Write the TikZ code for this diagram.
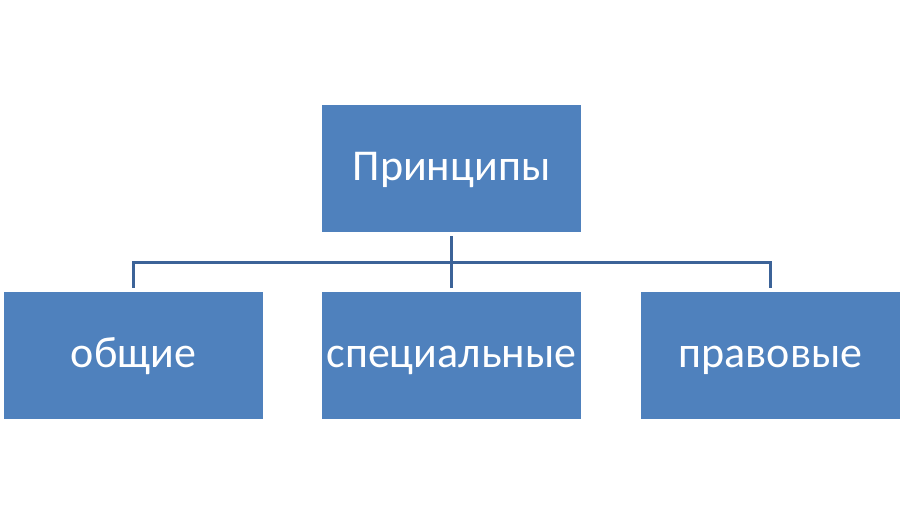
\documentclass[tikz,border=0pt]{standalone}
\usepackage{fontspec}
\setmainfont{Carlito}
\definecolor{boxblue}{HTML}{4F81BD}
\definecolor{lineblue}{HTML}{3C6398}
\begin{document}
\begin{tikzpicture}[x=1pt,y=-1pt,
  blk/.style={fill=boxblue,draw=none,minimum width=259pt,minimum height=127pt,inner sep=0pt,text=white,text height=30pt,text depth=7pt,font=\fontsize{44}{44}\selectfont},
  conn/.style={draw=lineblue,line width=3pt}]
\useasboundingbox (0,0) rectangle (904,525);
\node[blk] (top) at (451.5,168.5) {Принципы};
\node[blk] (a) at (133.5,355.5) {общие};
\node[blk] (b) at (451.5,355.5) {специальные};
\node[blk] (c) at (770.5,355.5) {правовые};
\coordinate (h) at (451.5,262.5);
\draw[conn] ([yshift=-4pt]top.south) -- ([yshift=4pt]b.north);
\draw[conn] ([yshift=4pt]a.north) |- (h) -| ([yshift=4pt]c.north);
\end{tikzpicture}
\end{document}
